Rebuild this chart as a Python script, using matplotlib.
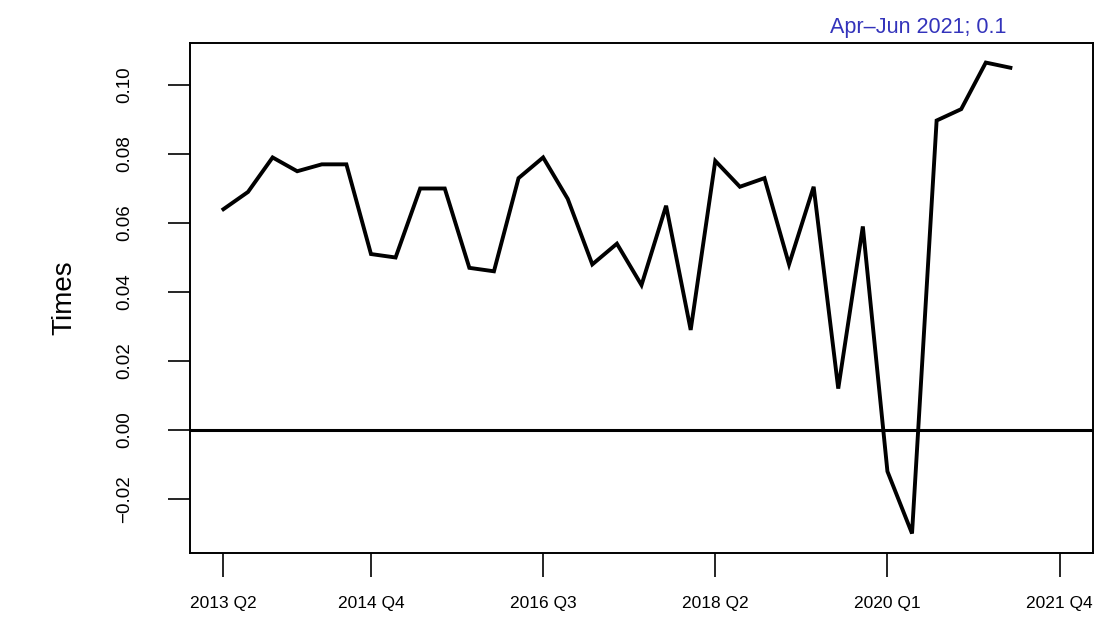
import matplotlib
matplotlib.use("Agg")
import matplotlib.pyplot as plt

plt.rcParams["font.family"] = ["Liberation Sans", "DejaVu Sans"]

# quarterly series, 2013 Q2 .. 2021 Q2
values = [
    0.064, 0.069, 0.079, 0.075, 0.077, 0.077, 0.051, 0.050,
    0.070, 0.070, 0.047, 0.046, 0.073, 0.079, 0.067, 0.048,
    0.054, 0.042, 0.065, 0.029, 0.078, 0.0705, 0.073, 0.048,
    0.0705, 0.012, 0.059, -0.012, -0.030, 0.0897, 0.093, 0.1065,
    0.105,
]
quarters = list(range(len(values)))

tick_pos = [0, 6, 13, 20, 27, 34]
tick_labels = ["2013 Q2", "2014 Q4", "2016 Q3", "2018 Q2", "2020 Q1", "2021 Q4"]
y_ticks = [-0.02, 0.00, 0.02, 0.04, 0.06, 0.08, 0.10]
y_labels = ["\u22120.02", "0.00", "0.02", "0.04", "0.06", "0.08", "0.10"]

title_text = "Apr\u2013Jun 2021; 0.1"

fig = plt.figure(figsize=(11.09, 6.39), dpi=100)
ax = fig.add_axes([0.1713, 0.1346, 0.8143, 0.7981])

ax.plot(quarters, values, color="black", lw=2.8, solid_joinstyle="miter")
ax.axhline(0, color="black", lw=2.2)

ax.set_xlim(-0.04 * 34, 34 * 1.04)
ax.set_ylim(-0.03565, 0.11217)

ax.set_xticks(tick_pos)
ax.set_xticklabels(tick_labels, fontsize=12.5)
ax.set_yticks(y_ticks)
ax.set_yticklabels(y_labels, fontsize=13.5, rotation=90, va="center")

ax.tick_params(axis="x", length=17, width=1.2, pad=14, direction="out")
ax.tick_params(axis="y", length=16, width=1.2, pad=25, direction="out")

for s in ax.spines.values():
    s.set_linewidth(1.4)

ax.set_ylabel("Times", fontsize=20, labelpad=28)

fig.text(918 / 1109, 1 - 27 / 639, title_text, color="#3333bb",
         fontsize=15.5, ha="center", va="center")

fig.savefig("out.png", dpi=100)
